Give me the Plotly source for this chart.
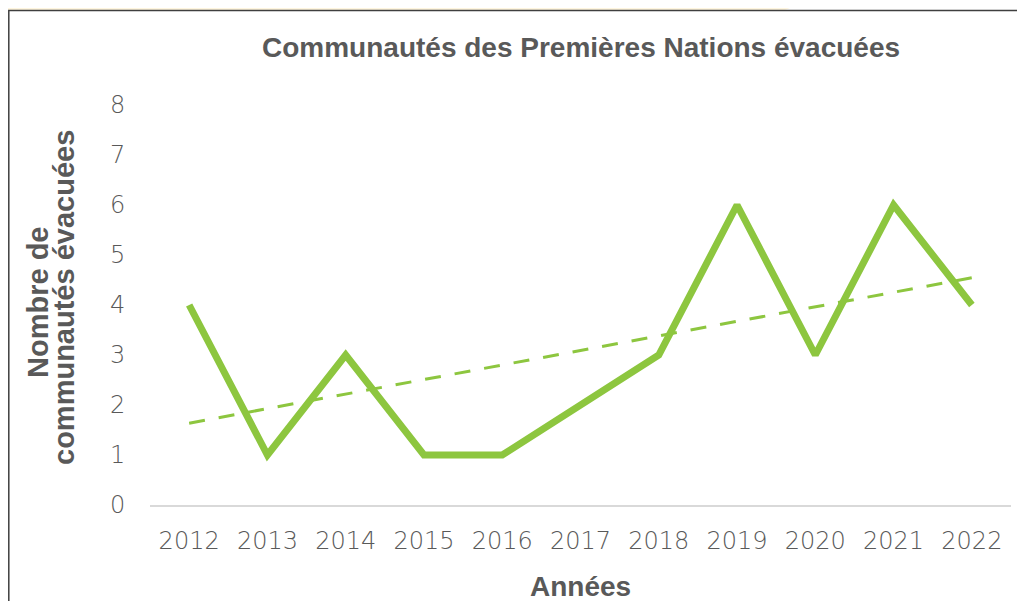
import numpy as np
import plotly.graph_objects as go

years = ["2012", "2013", "2014", "2015", "2016", "2017", "2018", "2019", "2020", "2021", "2022"]
evacuated = [4, 1, 3, 1, 1, 2, 3, 6, 3, 6, 4]

idx = np.arange(len(years))
slope, intercept = np.polyfit(idx, evacuated, 1)
trend = list(intercept + slope * idx)

GREEN = "#8dc63f"
TXT = "#595959"
TICKFONT = "DejaVu Sans, sans-serif"
BOLDFONT = "Liberation Sans, Arial, sans-serif"

fig = go.Figure()
fig.add_trace(go.Scatter(x=years, y=trend, mode="lines",
                         line=dict(color=GREEN, width=3, dash="16px,14px"),
                         hoverinfo="skip", showlegend=False))
fig.add_trace(go.Scatter(x=years, y=evacuated, mode="lines",
                         line=dict(color=GREEN, width=7),
                         showlegend=False))

# page has an 8px body margin; figure coords = page coords - 8
W, H = 1009, 593
L, R, T, B = 142, 6, 97, 96
pw, ph = W - L - R, H - T - B

def px(x):  # page x -> paper
    return (x - 150) / pw

def py(y):  # page y -> paper
    return (505 - y) / ph

fig.update_layout(
    width=W, height=H,
    margin=dict(l=L, r=R, t=T, b=B),
    paper_bgcolor="white", plot_bgcolor="white",
    font=dict(family=TICKFONT, color=TXT),
    xaxis=dict(type="category", range=[-0.5, 10.5], showgrid=False,
               showline=True, linecolor="#d9d9d9", linewidth=2,
               ticks="outside", ticklen=13, tickcolor="rgba(0,0,0,0)",
               tickfont=dict(size=24, color=TXT, family=TICKFONT, weight=300), zeroline=False),
    yaxis=dict(range=[0, 8], dtick=1, showgrid=False, showline=False, zeroline=False,
               ticks="outside", ticklen=19, tickcolor="rgba(0,0,0,0)",
               tickfont=dict(size=24, color=TXT, family=TICKFONT, weight=300)),
    shapes=[
        dict(type="path", xref="paper", yref="paper",
             path=f"M {px(8)} {py(8)} L {px(790)} {py(8)} L {px(785)} {py(10)} L {px(8)} {py(10)} Z",
             fillcolor="#fff6df", line=dict(width=0), layer="below"),
        dict(type="rect", xref="paper", yref="paper",
             x0=px(8.8), x1=px(1040), y0=py(640), y1=py(10.5),
             line=dict(color="#3f3f3f", width=1.5), fillcolor="rgba(0,0,0,0)", layer="below"),
    ],
    annotations=[
        dict(text="<b>Communautés des Premières Nations évacuées</b>", xref="paper", yref="paper",
             x=px(581), y=py(48), showarrow=False, font=dict(size=28, color=TXT, family=BOLDFONT),
             xanchor="center", yanchor="middle"),
        dict(text="<b>Années</b>", xref="paper", yref="paper",
             x=px(580), y=py(586), showarrow=False, font=dict(size=28, color=TXT, family=BOLDFONT),
             xanchor="center", yanchor="middle"),
        dict(text="<b>Nombre de</b>", xref="paper", yref="paper",
             x=px(38), y=py(302), showarrow=False, textangle=-90,
             font=dict(size=29, color=TXT, family=BOLDFONT),
             xanchor="center", yanchor="middle"),
        dict(text="<b>communautés évacuées</b>", xref="paper", yref="paper",
             x=px(64), y=py(298), showarrow=False, textangle=-90,
             font=dict(size=29, color=TXT, family=BOLDFONT),
             xanchor="center", yanchor="middle"),
    ],
)

fig.write_html("out.html")
